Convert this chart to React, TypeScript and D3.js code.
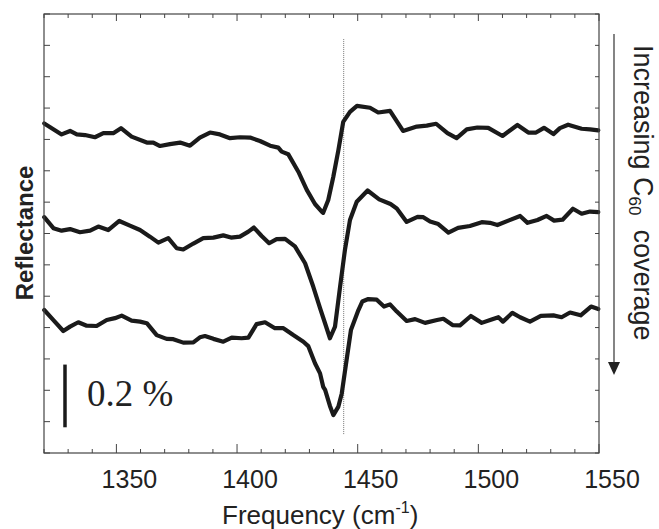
import React from "react";
import * as d3 from "d3";

// Frequency (cm^-1) and reflectance (%)
const topFreq = [1320.1,1327.3,1330.8,1333.6,1337.0,1341.1,1344.6,1348.7,1351.9,1356.3,1362.6,1365.3,1368.1,1372.2,1376.4,1380.5,1384.6,1388.8,1392.9,1397.1,1401.2,1405.4,1409.5,1413.7,1417.1,1418.5,1421.2,1425.4,1428.9,1432.3,1435.1,1435.7,1437.8,1439.9,1442.0,1444.0,1446.8,1449.7,1455.1,1458.5,1463.4,1468.8,1474.5,1478.6,1482.5,1487.2,1491.0,1495.2,1499.6,1504.1,1510.0,1516.2,1520.7,1523.9,1527.2,1531.1,1533.8,1537.2,1542.8,1546.3,1549.7];
const topRefl = [1.051,1.016,1.027,1.016,1.014,1.007,1.020,1.020,1.036,1.009,0.990,0.990,0.979,0.985,0.990,0.980,1.006,1.022,1.016,1.004,1.007,1.006,0.995,0.980,0.974,0.961,0.953,0.897,0.839,0.794,0.770,0.766,0.807,0.881,0.966,1.056,1.088,1.107,1.101,1.086,1.091,1.027,1.041,1.044,1.050,1.020,1.004,1.032,1.038,1.037,1.011,1.046,1.022,1.022,1.037,1.017,1.036,1.047,1.034,1.032,1.029];

const midFreq = [1320.1,1323.9,1327.3,1330.8,1334.9,1339.1,1342.5,1346.6,1351.2,1355.6,1359.8,1363.9,1367.4,1371.5,1375.0,1377.7,1381.9,1386.0,1390.2,1394.3,1397.5,1401.2,1404.7,1407.0,1410.2,1413.3,1416.4,1419.9,1424.0,1428.2,1431.6,1434.4,1436.5,1438.5,1440.6,1442.7,1444.7,1446.8,1449.6,1454.1,1458.9,1463.6,1466.2,1470.3,1474.8,1477.2,1480.0,1483.4,1487.6,1491.6,1496.5,1501.4,1504.8,1507.9,1512.7,1517.3,1520.4,1524.5,1528.3,1531.4,1534.9,1539.2,1542.8,1546.3,1549.7];
const midRefl = [0.752,0.717,0.709,0.714,0.704,0.709,0.722,0.711,0.740,0.725,0.711,0.690,0.671,0.685,0.653,0.649,0.668,0.685,0.687,0.694,0.687,0.690,0.706,0.719,0.692,0.669,0.682,0.683,0.659,0.605,0.530,0.462,0.413,0.366,0.403,0.530,0.647,0.743,0.801,0.837,0.809,0.794,0.780,0.737,0.753,0.752,0.738,0.730,0.703,0.718,0.724,0.736,0.734,0.727,0.742,0.756,0.734,0.743,0.756,0.741,0.744,0.779,0.763,0.770,0.768];

const botFreq = [1320.1,1323.9,1328.0,1330.8,1334.2,1337.7,1341.8,1346.0,1349.4,1352.2,1356.3,1359.8,1362.6,1366.7,1370.8,1373.6,1377.7,1381.9,1384.6,1386.7,1390.2,1394.3,1397.8,1401.9,1404.7,1408.1,1411.6,1415.7,1419.2,1423.3,1427.5,1429.5,1432.3,1434.4,1435.7,1436.5,1438.5,1439.9,1442.0,1443.4,1445.4,1447.2,1450.3,1451.9,1454.4,1457.9,1460.9,1463.4,1466.2,1470.3,1473.8,1477.9,1482.9,1485.5,1489.3,1492.4,1496.9,1501.4,1505.5,1508.3,1510.2,1514.1,1517.3,1521.4,1525.9,1531.1,1534.5,1538.0,1542.4,1546.7,1549.7];
const botRefl = [0.456,0.424,0.389,0.403,0.417,0.406,0.405,0.424,0.430,0.438,0.422,0.419,0.414,0.376,0.364,0.363,0.352,0.353,0.369,0.373,0.364,0.355,0.368,0.366,0.368,0.411,0.417,0.398,0.398,0.376,0.355,0.341,0.286,0.254,0.211,0.201,0.150,0.121,0.148,0.190,0.297,0.392,0.456,0.483,0.491,0.489,0.467,0.474,0.451,0.421,0.427,0.415,0.424,0.428,0.408,0.407,0.437,0.415,0.426,0.433,0.419,0.447,0.433,0.419,0.437,0.439,0.433,0.448,0.439,0.467,0.459];

const xTicks = [1350, 1400, 1450, 1500, 1550];
const xDomain = [1320, 1550];
const yDomain = [0, 1.4];
const peakMark = 1444.2;
const scaleBarValue = 0.2;
const scaleBarText = "0.2 %";

const W = 659, H = 529;
const L = 44, R = 599, T = 14, B = 453;

export default function App() {
  const x = d3.scaleLinear().domain(xDomain).range([L, R]);
  const y = d3.scaleLinear().domain(yDomain).range([B, T]);
  const line = d3.line<[number, number]>().x(d => x(d[0])).y(d => y(d[1])).curve(d3.curveLinear);
  const series = [
    d3.zip(topFreq, topRefl) as [number, number][],
    d3.zip(midFreq, midRefl) as [number, number][],
    d3.zip(botFreq, botRefl) as [number, number][],
  ];
  const minorX = d3.range(xDomain[0], xDomain[1] + 0.1, 10);
  const minorY = d3.range(0, 14.01, 1).map(v => v / 10);
  const axisColor = "#444";
  const sans = "Arial, 'Liberation Sans', Helvetica, sans-serif";
  return (
    <svg width={W} height={H} style={{ position: "absolute", left: 0, top: 0, background: "#fff" }}>
      {/* ticks */}
      {minorX.map(v => {
        const major = v % 50 === 0;
        return (
          <g key={"xt" + v} stroke={axisColor} strokeWidth={1}>
            <line x1={x(v)} x2={x(v)} y1={B} y2={B - (major ? 9 : 4)} />
            <line x1={x(v)} x2={x(v)} y1={T} y2={T + (major ? 7 : 4)} />
          </g>
        );
      })}
      {minorY.map(v => (
        <g key={"yt" + v} stroke={axisColor} strokeWidth={1}>
          <line x1={L} x2={L + 6} y1={y(v)} y2={y(v)} />
          <line x1={R} x2={R - 4} y1={y(v)} y2={y(v)} />
        </g>
      ))}
      {/* dotted marker */}
      <line x1={x(peakMark)} x2={x(peakMark)} y1={y(1.32)} y2={y(0.058)} stroke="#777" strokeWidth={1} strokeDasharray="1,1" />
      {/* curves */}
      {series.map((s, i) => (
        <path key={i} d={line(s) || ""} fill="none" stroke="#1a1a1a" strokeWidth={4.2} strokeLinejoin="round" strokeLinecap="round" />
      ))}
      {/* frame */}
      <rect x={L} y={T} width={R - L} height={B - T} fill="none" stroke={axisColor} strokeWidth={1.2} />
      {/* x tick labels */}
      {xTicks.map(v => (
        <text key={"xl" + v} x={x(v) + 13} y={488} textAnchor="middle" fontFamily={sans} fontSize={25} fill="#222">{v}</text>
      ))}
      <text x={222} y={524} fontFamily={sans} fontSize={26} fill="#222">
        Frequency (cm<tspan fontSize={16} dy={-11}>-1</tspan><tspan dy={11}>)</tspan>
      </text>
      <text transform="translate(33,233) rotate(-90)" textAnchor="middle" fontFamily={sans} fontSize={24} fontWeight="bold" fill="#222">Reflectance</text>
      {/* scale bar */}
      <line x1={x(1328.7)} x2={x(1328.7)} y1={y(0.082)} y2={y(0.082 + scaleBarValue)} stroke="#1a1a1a" strokeWidth={3.5} />
      <text x={87} y={406} fontFamily="'Liberation Serif', 'Times New Roman', serif" fontSize={37} fill="#222">{scaleBarText}</text>
      {/* right annotation */}
      <line x1={614} x2={614} y1={34} y2={362} stroke="#333" strokeWidth={1.2} />
      <path d="M608,362 L620,362 L614,375 Z" fill="#222" />
      <text transform="translate(634,45) rotate(90)" fontFamily={sans} fontSize={27} fill="#222">
        Increasing C<tspan fontSize={17} dy={5}>60</tspan><tspan dy={-5} dx={14}>coverage</tspan>
      </text>
    </svg>
  );
}
